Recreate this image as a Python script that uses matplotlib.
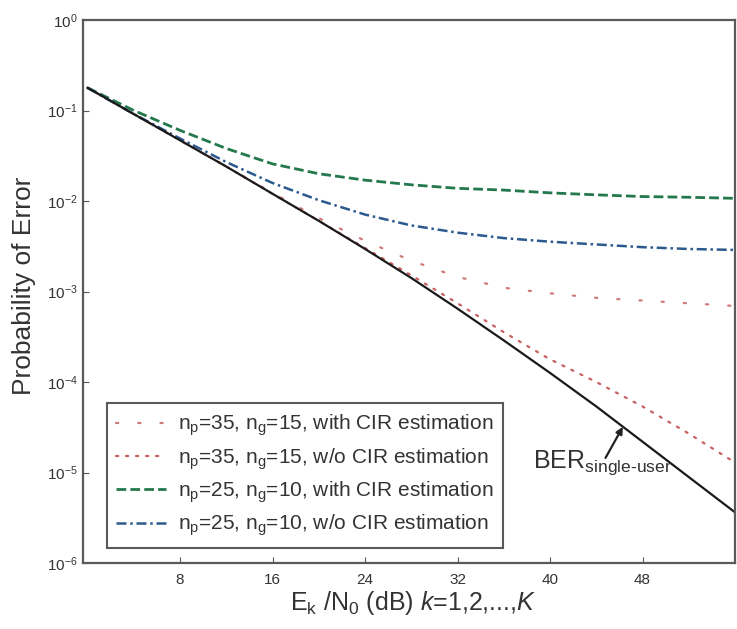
import numpy as np
import matplotlib
matplotlib.use("Agg")
import matplotlib.pyplot as plt
from matplotlib.ticker import NullLocator

plt.rcParams["font.family"] = ["Liberation Sans", "DejaVu Sans"]
plt.rcParams["mathtext.fontset"] = "custom"
plt.rcParams["mathtext.rm"] = "Liberation Sans"
plt.rcParams["mathtext.it"] = "Liberation Sans:italic"
plt.rcParams["mathtext.bf"] = "Liberation Sans:bold"

# Ek/N0 in dB
snr_db = [0, 4, 8, 12, 16, 20, 24, 28, 32, 36, 40, 44, 48, 52, 56]

ber_single_user = [1.78e-1, 9.12e-2, 4.68e-2, 2.40e-2, 1.20e-2, 6.03e-3, 2.95e-3, 1.41e-3,
                   6.46e-4, 2.88e-4, 1.26e-4, 5.37e-5, 2.19e-5, 8.91e-6, 3.63e-6]
ber_35_with = [1.78e-1, 9.12e-2, 4.68e-2, 2.40e-2, 1.23e-2, 6.46e-3, 3.63e-3, 2.19e-3,
               1.45e-3, 1.10e-3, 9.55e-4, 8.51e-4, 7.94e-4, 7.41e-4, 6.92e-4]
ber_35_without = [1.78e-1, 9.12e-2, 4.68e-2, 2.40e-2, 1.20e-2, 6.03e-3, 3.02e-3, 1.51e-3,
                  7.41e-4, 3.55e-4, 1.78e-4, 1.00e-4, 5.37e-5, 2.69e-5, 1.29e-5]
ber_25_with = [1.78e-1, 1.00e-1, 6.03e-2, 3.80e-2, 2.57e-2, 2.00e-2, 1.70e-2, 1.51e-2,
               1.38e-2, 1.32e-2, 1.23e-2, 1.17e-2, 1.12e-2, 1.10e-2, 1.07e-2]
ber_25_without = [1.78e-1, 9.12e-2, 4.90e-2, 2.69e-2, 1.58e-2, 1.02e-2, 7.08e-3, 5.37e-3,
                  4.47e-3, 3.89e-3, 3.55e-3, 3.31e-3, 3.09e-3, 2.95e-3, 2.88e-3]

labels = [
    r"n$_{\rm p}$=35, n$_{\rm g}$=15, with CIR estimation",
    r"n$_{\rm p}$=35, n$_{\rm g}$=15, w/o CIR estimation",
    r"n$_{\rm p}$=25, n$_{\rm g}$=10, with CIR estimation",
    r"n$_{\rm p}$=25, n$_{\rm g}$=10, w/o CIR estimation",
]
x_ticks = [8, 16, 24, 32, 40, 48]

SPINE = "#5a5a5a"
TEXT = "#333333"

fig = plt.figure(figsize=(7.37, 6.29), dpi=100)
ax = fig.add_axes([83 / 737, 66 / 629, 652 / 737, 543 / 629])

ax.semilogy(snr_db, ber_35_with, color="#cf7a7a", lw=1.6,
            linestyle=(0, (1, 9)), dash_capstyle="round", label=labels[0])
ax.semilogy(snr_db, ber_35_without, color="#c96060", lw=1.6,
            linestyle=(0, (1, 3.5)), dash_capstyle="round", label=labels[1])
ax.semilogy(snr_db, ber_25_with, color="#23784c", lw=2.0,
            linestyle=(0, (3.5, 1.5)), label=labels[2])
ax.semilogy(snr_db, ber_25_without, color="#2c5a8e", lw=1.8,
            linestyle=(0, (4, 1.5, 1, 1.5)), label=labels[3])
ax.semilogy(snr_db, ber_single_user, color="#1a1a1a", lw=1.6)

ax.set_xlim(-0.4, 56)
ax.set_ylim(1e-6, 1)
ax.set_xticks(x_ticks)
ax.yaxis.set_minor_locator(NullLocator())
ax.tick_params(axis="both", which="major", direction="in", length=4,
               color=SPINE, labelsize=11, labelcolor=TEXT)
ax.tick_params(axis="x", pad=7)
ax.tick_params(axis="y", pad=4)
for sp in ax.spines.values():
    sp.set_color(SPINE)
    sp.set_linewidth(1.6)

ax.set_ylabel("Probability of Error", fontsize=19, color=TEXT, va="center")
ax.yaxis.set_label_coords(-0.0905, 0.51)
ax.set_xlabel(r"E$_{\rm k}$ /N$_{\rm 0}$ (dB) $k$=1,2,...,$K$", fontsize=18,
              color=TEXT, va="center")
ax.xaxis.set_label_coords(0.506, -0.074)

ax.annotate("", xy=(46.3, 3.2e-5), xytext=(44.8, 1.45e-5),
            arrowprops=dict(arrowstyle="-|>", color="#222222", lw=1.6,
                            mutation_scale=10, shrinkA=0, shrinkB=0))
ax.text(38.5, 1.3e-5, r"BER$_{\rm single\text{-}user}$", fontsize=18,
        color=TEXT, ha="left", va="center")

leg = ax.legend(loc="lower left", bbox_to_anchor=(0.037, 0.028), borderaxespad=0,
                fontsize=15, handlelength=2.4, handletextpad=0.55, labelspacing=0.38,
                borderpad=0.45, fancybox=False, framealpha=1)
leg.get_frame().set_edgecolor(SPINE)
leg.get_frame().set_linewidth(1.5)
for t in leg.get_texts():
    t.set_color(TEXT)

fig.savefig("out.png", dpi=100)
